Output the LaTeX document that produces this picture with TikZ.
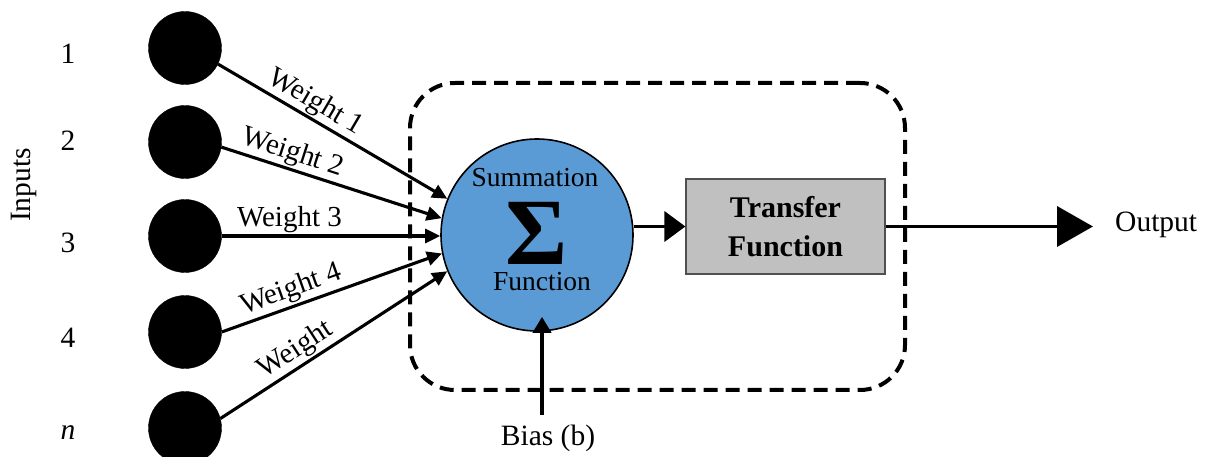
\documentclass[tikz,border=0pt]{standalone}
\usepackage{fontspec}
\setmainfont{Liberation Serif}
\usetikzlibrary{arrows.meta,shapes.geometric}
\definecolor{sumblue}{HTML}{5B9BD5}
\definecolor{tfgray}{HTML}{C0C0C0}
\definecolor{tfedge}{HTML}{505050}
\begin{document}
\begin{tikzpicture}[x=1pt,y=1pt,
  inp/.style={circle,fill=black,draw=black,minimum size=73pt,inner sep=0pt},
  wire/.style={line width=3.1pt,-{Triangle[length=15pt,width=14pt]}},
  txt/.style={font=\fontsize{29.5}{32}\selectfont,inner sep=0pt},
  stxt/.style={font=\fontsize{27.5}{30}\selectfont,inner sep=0pt},
  wlab/.style={font=\fontsize{29}{31}\selectfont,sloped,above,inner sep=1.5pt},
  bigarrow/.style={line width=3.8pt}]
\useasboundingbox (0,0) rectangle (1205,457);
% dashed core box
\node[draw,line width=4pt,dash pattern=on 14pt off 8pt,rounded corners=45pt,
      minimum width=495pt,minimum height=307pt,inner sep=0pt] (core) at (657.5,220.5) {};
% input labels
\node[txt] (n1) at (68,403) {1};
\node[txt] (n2) at (68,316) {2};
\node[txt] (n3) at (68,214) {3};
\node[txt] (n4) at (68,119) {4};
\node[txt] (nn) at (68,24) {\itshape n};
\node[txt,rotate=90] (inputs) at (24,272) {Inputs};
% input circles
\node[inp] (c1) at (185,409) {};
\node[inp] (c2) at (185,315) {};
\node[inp] (c3) at (185,221) {};
\node[inp] (c4) at (185,125) {};
\node[inp] (c5) at (185,29) {};
% summation
\node[circle,fill=sumblue,draw=black,line width=1.6pt,minimum size=192pt,inner sep=0pt] (sum) at (537,222) {};
\node[stxt] (sumtop) at (535,279) {Summation};
\node[inner sep=0pt,font=\fontsize{95}{95}\selectfont\bfseries] (sigma) at (537,224) {Σ};
\node[stxt] (sumbot) at (542,175) {Function};
% transfer function
\node[draw=tfedge,fill=tfgray,line width=1.2pt,minimum width=199pt,minimum height=95pt,
      align=center,font=\fontsize{30}{39}\selectfont\bfseries] (tf) at (785.5,230.5) {Transfer\\Function};
% inputs to summation
\draw[wire] (c1.-26) -- node[wlab,pos=0.39] {Weight 1} (sum.158);
\draw[wire] (c2.-8) -- node[wlab,pos=0.30] {Weight 2} (sum.170);
\draw[wire] (c3.east) -- node[wlab,pos=0.31] {Weight 3} (c3.east -| sum.west);
\draw[wire] (c4.east) -- node[wlab,pos=0.34] {Weight 4} (sum.191);
\draw[wire] (c5.15) -- node[wlab,pos=0.37] {Weight} (sum.202);
% summation to transfer
\draw[bigarrow,-{Triangle[length=21pt,width=30pt]}] (tf.west -| sum.east) -- (tf.west);
% output
\coordinate (outtip) at (1093,230.5);
\draw[bigarrow,-{Triangle[length=36pt,width=40pt]}] (tf.east) -- (outtip);
\node[txt,anchor=west] (out) at (1115,232) {Output};
% bias
\coordinate (biasstart) at (542,42);
\draw[bigarrow,shorten >=-15pt,-{Triangle[length=16pt,width=18pt]}] (biasstart) -- (biasstart |- sum.south);
\node[txt] (bias) at (548,19) {Bias (b)};
\end{tikzpicture}
\end{document}
